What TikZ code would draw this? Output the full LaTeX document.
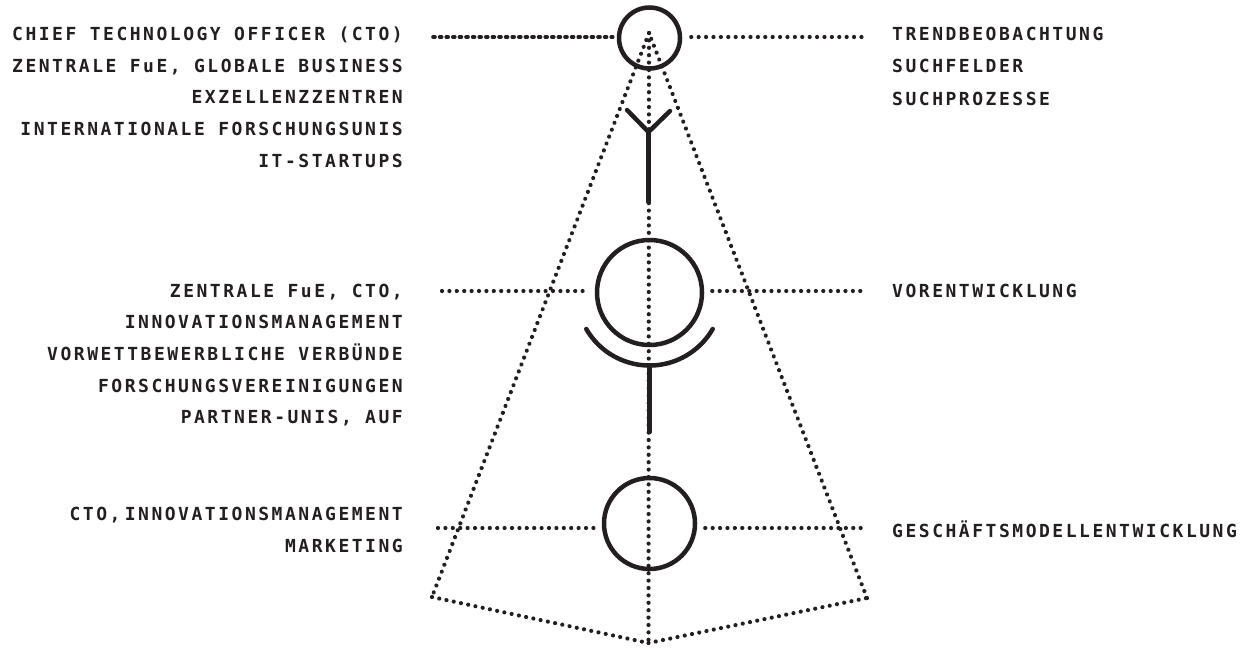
\documentclass[tikz,border=0pt]{standalone}
\usepackage{fontspec}
\usetikzlibrary{decorations.markings}
\newfontfamily\lblfont{DejaVu Sans Mono}[LetterSpace=14,BoldFont=* Bold]
\definecolor{ink}{HTML}{231F20}
\begin{document}
\begin{tikzpicture}[x=1pt,y=1pt,
  solid line/.style={draw=ink,line width=4.5pt,line cap=round},
  ring/.style={circle,draw=ink,line width=4.5pt,inner sep=0pt},
  dots/.style={postaction={decorate},decoration={markings,
     mark=between positions 0 and 1 step 7.4pt with {\fill[ink] (0,0) circle (2.1pt);}}},
  densedots/.style={draw=ink,line width=3.6pt,line cap=round,dash pattern=on 2pt off 4.6pt},
  lbl/.style={text=ink,inner sep=0pt,font=\lblfont\bfseries\fontsize{18}{18}\selectfont},
  lleft/.style={lbl,anchor=base east},
  lright/.style={lbl,anchor=base west}]
\useasboundingbox (0,0) rectangle (1249,-648);
% circles
\node[ring,minimum size=61pt] (c1) at (649.5,-38) {};
\node[ring,minimum size=105pt] (c2) at (649.5,-292.5) {};
\node[ring,minimum size=91pt] (c3) at (649.5,-523.5) {};
% frame coordinates
\coordinate (apex) at (649,-33);
\coordinate (bl) at (432,-597);
\coordinate (br) at (867,-598);
\coordinate (bm) at (648.5,-643);
% dotted triangle
\path[dots] (apex) -- (bl);
\path[dots] (bl) -- (bm);
\path[dots] (bm) -- (br);
\path[dots] (br) -- (apex);
\path[dots] (apex) -- (bm);
% horizontal dotted lines
\coordinate (h1l) at (433,-37);
\coordinate (h1r) at (865,-37);
\coordinate (h2l) at (442,-291);
\coordinate (h2r) at (865,-291);
\coordinate (h3l) at (438,-528);
\coordinate (h3r) at (865,-528);
\draw[densedots] (h1l) -- ([xshift=-4pt]c1.west |- h1l);
\path[dots] ([xshift=9pt]c1.east |- h1r) -- (h1r);
\path[dots] (h2l) -- ([xshift=-8pt]c2.west |- h2l);
\path[dots] ([xshift=8pt]c2.east |- h2r) -- (h2r);
\path[dots] (h3l) -- ([xshift=-8pt]c3.west |- h3l);
\path[dots] ([xshift=8pt]c3.east |- h3r) -- (h3r);
% Y symbol
\coordinate (ya) at (627,-110);
\coordinate (yj) at (648.5,-132);
\coordinate (yb) at (670,-111);
\coordinate (ys) at (648.5,-202);
\draw[solid line,line join=miter] (ya) -- (yj) -- (yb);
\draw[solid line] (yj) -- (ys);
% cup symbol
\draw[solid line] (c2.center) ++(210:73) arc[start angle=210,end angle=330,radius=73];
\coordinate (cupb) at (649.5,-365.5);
\coordinate (cups) at (649.5,-432);
\draw[solid line] (cupb) -- (cups);
% left texts group 1
\node[lleft] (a1) at (403,-40.5) {CHIEF TECHNOLOGY OFFICER (CTO)};
\node[lleft] (a2) at (403,-72) {ZENTRALE FuE, GLOBALE BUSINESS};
\node[lleft] (a3) at (403,-103.5) {EXZELLENZZENTREN};
\node[lleft] (a4) at (403,-135) {INTERNATIONALE FORSCHUNGSUNIS};
\node[lleft] (a5) at (403,-167) {IT-STARTUPS};
% left texts group 2
\node[lleft] (b1) at (403,-297) {ZENTRALE FuE, CTO,};
\node[lleft] (b2) at (403,-328) {INNOVATIONSMANAGEMENT};
\node[lleft] (b3) at (403,-360) {VORWETTBEWERBLICHE VERBÜNDE};
\node[lleft] (b4) at (403,-392) {FORSCHUNGSVEREINIGUNGEN};
\node[lleft] (b5) at (403,-423) {PARTNER-UNIS, AUF};
% left texts group 3
\node[lleft] (d1) at (403,-520) {CTO,\kern-9pt{} INNOVATIONSMANAGEMENT};
\node[lleft] (d2) at (403,-552) {MARKETING};
% right texts
\node[lright] (r1) at (892,-40.5) {TRENDBEOBACHTUNG};
\node[lright] (r2) at (892,-72.5) {SUCHFELDER};
\node[lright] (r3) at (892,-105) {SUCHPROZESSE};
\node[lright] (r4) at (892,-297.5) {VORENTWICKLUNG};
\node[lright] (r5) at (892,-537) {GESCHÄFTSMODELLENTWICKLUNG};
\end{tikzpicture}
\end{document}
